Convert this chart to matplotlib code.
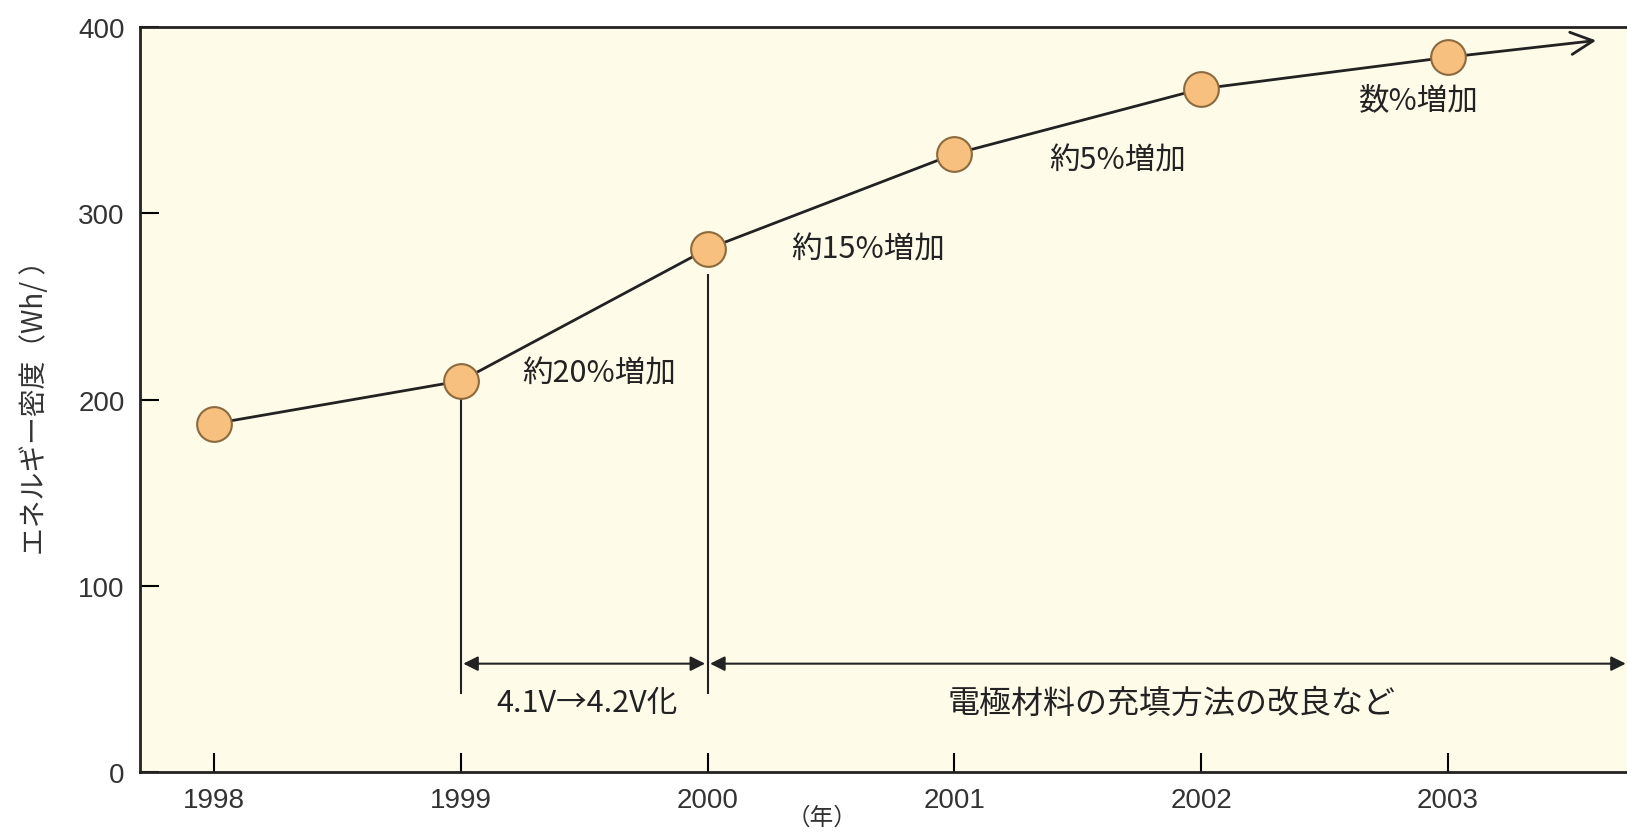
import matplotlib
matplotlib.use("Agg")
import matplotlib.pyplot as plt

plt.rcParams['font.family'] = ['Noto Sans CJK JP', 'DejaVu Sans']

# energy density by year
years = [1998, 1999, 2000, 2001, 2002, 2003]
density = [187, 210, 281, 332, 367, 384]
trend_end = (2003.6, 393)

# growth notes next to each step
notes = ["約20%増加", "約15%増加", "約5%増加", "数%増加"]
note_x = [1999.56, 2000.65, 2001.66, 2002.88]
note_y = [214, 281, 329, 361]

xticks = [1998, 1999, 2000, 2001, 2002, 2003]
yticks = [0, 100, 200, 300, 400]

fig = plt.figure(figsize=(16.27, 8.37), dpi=100)
ax = fig.add_axes([0.086, 0.077, 0.914, 0.889])
ax.set_facecolor('#fffbe9')

ax.set_xlim(1997.70, 2003.725)
ax.set_ylim(0, 400)

# trend line with open arrow past 2003
ax.plot(years, density, color='#222222', lw=2.0, zorder=2)
ax.annotate('', xy=trend_end, xytext=(years[-1], density[-1]),
            arrowprops=dict(arrowstyle='->', color='#222222', lw=2.0,
                            mutation_scale=40, shrinkA=0, shrinkB=0))
ax.plot(years, density, 'o', ms=25, mfc='#f8c07f', mec='#8b6a3e', mew=1.5, zorder=3)

for t, x, y in zip(notes, note_x, note_y):
    ax.text(x, y, t, ha='center', va='center', fontsize=22, color='#222222')

# period markers
ax.plot([1999, 1999], [42, 200], color='#222222', lw=1.5)
ax.plot([2000, 2000], [42, 267], color='#222222', lw=1.5)
arrow_kw = dict(arrowstyle='<|-|>', color='#222222', lw=1.5,
                mutation_scale=22, shrinkA=0, shrinkB=0)
ax.annotate('', xy=(1999.01, 58), xytext=(1999.99, 58), arrowprops=arrow_kw)
ax.annotate('', xy=(2000.01, 58), xytext=(2003.72, 58), arrowprops=arrow_kw)
ax.text(1999.51, 37, "4.1V→4.2V化", ha='center', va='center', fontsize=22,
        color='#222222')
ax.text(2001.88, 37, "電極材料の充填方法の改良など", ha='center', va='center',
        fontsize=23, color='#222222')

ax.set_xticks(xticks)
ax.set_yticks(yticks)
ax.tick_params(direction='in', length=14, width=1.5, labelsize=20,
               labelcolor='#333333', pad=11)
for lab in ax.get_xticklabels() + ax.get_yticklabels():
    lab.set_family(['Liberation Sans', 'DejaVu Sans'])

for s in ['left', 'bottom', 'top']:
    ax.spines[s].set_linewidth(2)
    ax.spines[s].set_color('#222222')
ax.spines['right'].set_visible(False)

fig.text(0.505, 0.022, "（年）", ha='center', va='center', fontsize=17,
         color='#333333')
ax.set_ylabel("エネルギー密度（Wh/ ）", fontsize=20, color='#333333', labelpad=20)

fig.savefig('out.png', dpi=100, facecolor='white')
